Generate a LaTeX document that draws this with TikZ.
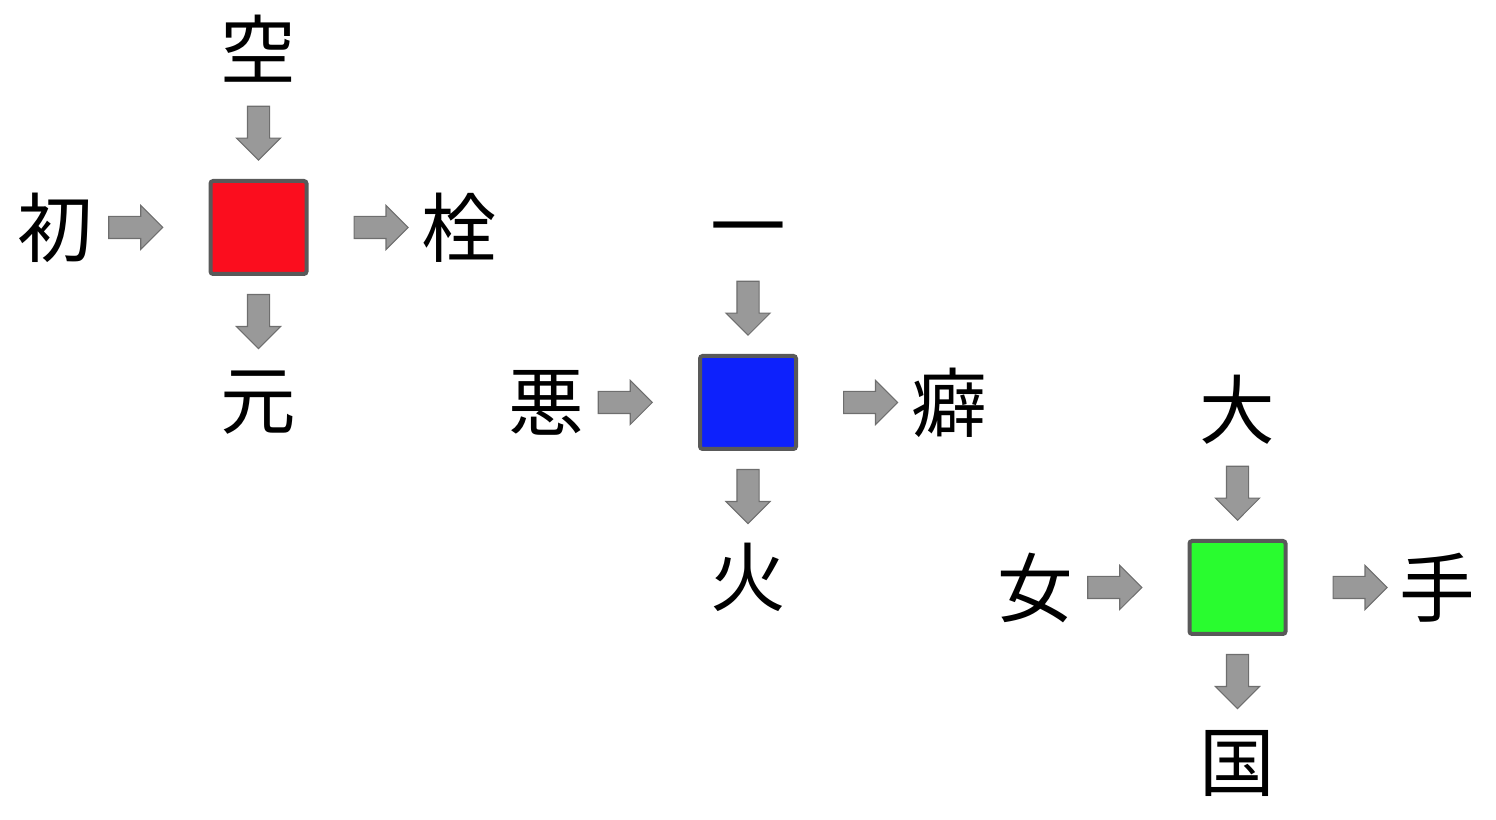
\documentclass[tikz,border=0pt]{standalone}
\usepackage{fontspec}
\newfontfamily\jpfont{Noto Sans CJK JP}
\usetikzlibrary{shapes.arrows}
\definecolor{tilered}{HTML}{FB0D1E}
\definecolor{tileblue}{HTML}{0D21FC}
\definecolor{tilegreen}{HTML}{29FC2F}
\definecolor{tileline}{HTML}{595959}
\definecolor{arrowgray}{HTML}{999999}
\definecolor{arrowline}{HTML}{6E6E6E}
\begin{document}
\begin{tikzpicture}[
  kanji/.style={font=\jpfont\fontsize{43}{50}\selectfont, inner sep=0pt},
  tile/.style={draw=tileline, line width=0.08cm, rounded corners=1.5pt,
    minimum width=1.92cm, minimum height=1.86cm, inner sep=0pt},
  flow/.style={single arrow, draw=arrowline, fill=arrowgray, line width=0.6pt,
    minimum height=1.08cm, inner xsep=0pt, inner ysep=0.21cm,
    single arrow head extend=0.22cm, sloped, allow upside down}]
  \useasboundingbox (0,0) rectangle (29.92,16.4);

  \node[tile, fill=tilered] (red) at (5.17,11.85) {};
  \node[kanji] (sora)  at (5.17,15.42) {空};
  \node[kanji] (hatsu) at (1.10,11.85) {初};
  \node[kanji] (sen)   at (9.19,11.85) {栓};
  \node[kanji] (moto)  at (5.17,8.34)  {元};

  \path (sora) -- node[flow, pos=1, anchor=tip] {} ([yshift=0.36cm]red.north);
  \path (hatsu) -- node[flow, pos=1, anchor=tip] {} ([xshift=-0.9cm]red.west);
  \path ([xshift=0.9cm]red.east) -- node[flow, pos=0, anchor=tail] {} (sen);
  \path ([yshift=-0.36cm]red.south) -- node[flow, pos=0, anchor=tail] {} (moto);

  \node[tile, fill=tileblue] (blue) at (14.96,8.35) {};
  \node[kanji] (ichi) at (14.96,11.64) {一};
  \node[kanji] (aku)  at (10.92,8.35)  {悪};
  \node[kanji] (heki) at (18.98,8.35)  {癖};
  \node[kanji] (hi)   at (14.96,4.86)  {火};

  \path (ichi) -- node[flow, pos=1, anchor=tip] {} ([yshift=0.36cm]blue.north);
  \path (aku) -- node[flow, pos=1, anchor=tip] {} ([xshift=-0.9cm]blue.west);
  \path ([xshift=0.9cm]blue.east) -- node[flow, pos=0, anchor=tail] {} (heki);
  \path ([yshift=-0.36cm]blue.south) -- node[flow, pos=0, anchor=tail] {} (hi);

  \node[tile, fill=tilegreen] (green) at (24.75,4.65) {};
  \node[kanji] (dai)  at (24.75,8.21) {大};
  \node[kanji] (onna) at (20.70,4.65) {女};
  \node[kanji] (te)   at (28.75,4.65) {手};
  \node[kanji] (kuni) at (24.75,1.14) {国};

  \path (dai) -- node[flow, pos=1, anchor=tip] {} ([yshift=0.36cm]green.north);
  \path (onna) -- node[flow, pos=1, anchor=tip] {} ([xshift=-0.9cm]green.west);
  \path ([xshift=0.9cm]green.east) -- node[flow, pos=0, anchor=tail] {} (te);
  \path ([yshift=-0.36cm]green.south) -- node[flow, pos=0, anchor=tail] {} (kuni);
\end{tikzpicture}
\end{document}
